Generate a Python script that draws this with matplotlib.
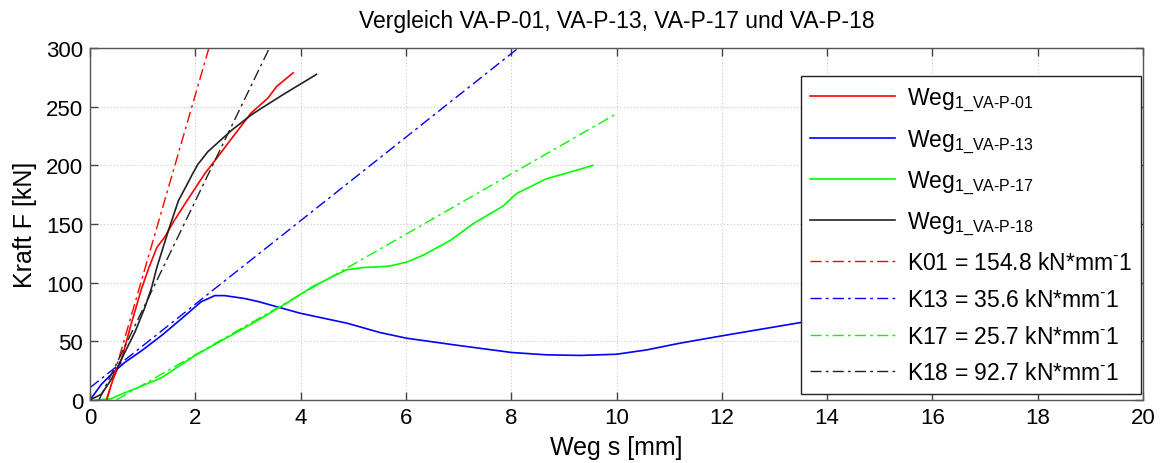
import numpy as np
import matplotlib
matplotlib.use("Agg")
import matplotlib.pyplot as plt

plt.rcParams['font.family'] = ['Liberation Sans', 'DejaVu Sans']
plt.rcParams['mathtext.fontset'] = 'custom'
plt.rcParams['mathtext.rm'] = 'Liberation Sans'
plt.rcParams['mathtext.it'] = 'Liberation Sans'

# measured curves
x01 = [0.31, 0.44, 0.60, 0.79, 0.98, 1.12, 1.27, 1.42, 1.60, 1.80, 2.18, 2.43, 2.69, 3.06, 3.38, 3.55, 3.86]
F01 = [0, 17.8, 35, 66, 95, 113, 130, 139, 153, 167, 193, 207.5, 223, 244.7, 257.5, 267.6, 279]

x13 = [0, 0.22, 0.44, 0.66, 0.98, 1.36, 1.73, 2.11, 2.37, 2.56, 2.94, 3.19, 3.99, 4.88, 5.51,
       6.01, 7.0, 8.01, 8.67, 9.31, 10.0, 10.57, 11.2, 12.0, 13.49, 14.5, 15.5]
F13 = [0, 13.5, 23.5, 32, 42, 55, 69, 83.7, 89, 89, 86.5, 84, 74, 65.5, 57.5,
       52.7, 46.5, 40.5, 38.5, 38, 39, 42.7, 48.4, 54.7, 66, 72, 78]

x17 = [0.1, 0.4, 0.6, 0.91, 1.36, 1.99, 2.62, 3.19, 3.75, 4.24, 4.6, 4.87, 5.2, 5.51, 5.70,
       6.01, 6.33, 6.84, 7.28, 7.85, 8.1, 8.67, 9.17, 9.55]
F17 = [0, 1, 5, 10.6, 19, 37.8, 53.6, 68, 83, 97, 105, 111, 113, 113.6, 114.3,
       117.5, 123.5, 136, 150.4, 165.5, 176, 188.7, 195, 200]

x18 = [0, 0.22, 0.41, 0.60, 0.86, 1.04, 1.17, 1.27, 1.49, 1.68, 1.87, 1.95, 2.05, 2.24, 2.69, 3.06,
       3.23, 3.67, 4.30]
F18 = [0, 5, 18, 35, 58.6, 78.6, 95.7, 113, 144.6, 170, 186, 193, 201, 211.8, 230, 243,
       248, 260.5, 277.6]

# stiffness lines: slope, x-offset, y-offset, x range
k_slopes = [154.8, 35.6, 25.7, 92.7]
k_x0 = [0.32, 0.0, 0.5, 0.17]
k_b = [0.0, 10.5, 0.0, 0.0]
k_xend = [2.3, 8.2, 10.0, 3.45]
k_names = ['K01', 'K13', 'K17', 'K18']

colors = ['#ff0000', '#0000ff', '#00ff00', '#222222']
series = ['VA-P-01', 'VA-P-13', 'VA-P-17', 'VA-P-18']

fig = plt.figure(figsize=(11.64, 4.64), dpi=100)
ax = fig.add_axes([0.0773, 0.1358, 0.9047, 0.7582])

curves = [(x01, F01), (x13, F13), (x17, F17), (x18, F18)]
for (xs, fs), c, s in zip(curves, colors, series):
    ax.plot(xs, fs, color=c, lw=1.2,
            label=r'Weg$_{\mathregular{1\_VA\text{-}P\text{-}' + s.split('-')[-1] + '}}$')

for k, x0, b, xe, c, n in zip(k_slopes, k_x0, k_b, k_xend, colors, k_names):
    xx = np.array([x0, xe])
    ax.plot(xx, k * (xx - x0) + b, color=c, lw=1.0, linestyle=(0, (8, 3, 2, 3)),
            label=f'{n} = {k:.1f} kN*mm' + r'$^{\text{-}}$' + '1')

ax.set_xlim(0, 20)
ax.set_ylim(0, 300)
ax.set_xticks(np.arange(0, 21, 2))
ax.set_yticks(np.arange(0, 301, 50))
ax.grid(True, color='#c8c8c8', linestyle=(0, (1, 2)), lw=0.8)
ax.tick_params(direction='in', top=True, right=True, length=6, width=1.0,
               labelsize=16, color='#444444', pad=5)
for sp in ax.spines.values():
    sp.set_color('#555555')
    sp.set_linewidth(1.0)

ax.set_xlabel('Weg s [mm]', fontsize=18, labelpad=5)
ax.set_ylabel('Kraft F [kN]', fontsize=18, labelpad=6)
ax.set_title('Vergleich VA-P-01, VA-P-13, VA-P-17 und VA-P-18', fontsize=16.5, pad=15)

leg = ax.legend(loc='upper right', bbox_to_anchor=(0.998, 0.92), fontsize=16.5,
                frameon=True, fancybox=False, framealpha=1, edgecolor='#222222',
                handlelength=3.7, labelspacing=0.6, borderpad=0.4, handletextpad=0.5,
                borderaxespad=0)
leg.get_frame().set_linewidth(1.0)

fig.savefig('out.png', dpi=100)
